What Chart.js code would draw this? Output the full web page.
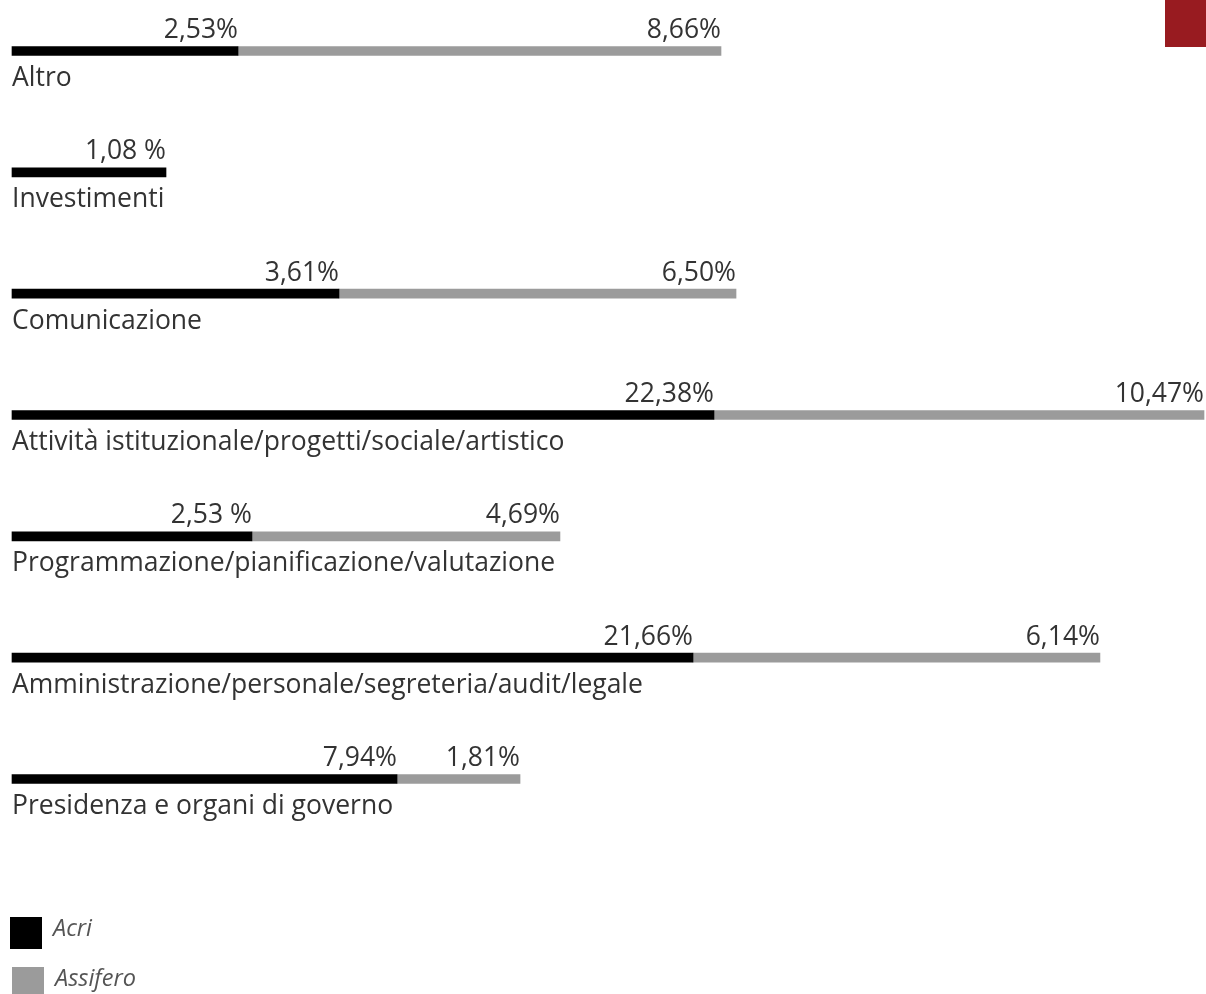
<!DOCTYPE html>
<html>
<head>
<meta charset="utf-8">
<script src="https://cdn.jsdelivr.net/npm/chart.js@4"></script>
<style>
  body { margin: 0; background: #fff; font-family: "Open Sans", sans-serif; }
  #wrap { position: relative; width: 1206px; height: 994px; overflow: hidden; }
  #corner { position: absolute; left: 1165px; top: 0; width: 41px; height: 47px; background: #981b20; }
  .leg { position: absolute; left: 10px; display: flex; align-items: center; font-style: italic; font-size: 23.5px; color: #555; }
  .leg .box { display: inline-block; width: 32px; height: 32px; margin-right: 11px; }
  .leg .txt { position: relative; top: -6px; }
</style>
</head>
<body>
<div id="wrap">
  <canvas id="chart-canvas"></canvas>
  <div id="corner"></div>
  <div id="legend"></div>
</div>
<script>
// categories, top to bottom
const categories = [
  "Altro",
  "Investimenti",
  "Comunicazione",
  "Attività istituzionale/progetti/sociale/artistico",
  "Programmazione/pianificazione/valutazione",
  "Amministrazione/personale/segreteria/audit/legale",
  "Presidenza e organi di governo"
];

// bar lengths (share of full width, 0-100);
// the drawn lengths do not follow the printed percentages
const acri = [18.96, 12.92, 27.43, 58.89, 20.13, 57.13, 32.3];
const assifero = [40.52, null, 33.31, 41.11, 25.84, 34.14, 10.32];

// printed value labels
const acriText = ["2,53%", "1,08 %", "3,61%", "22,38%", "2,53 %", "21,66%", "7,94%"];
const assiferoText = ["8,66%", null, "6,50%", "10,47%", "4,69%", "6,14%", "1,81%"];

const seriesNames = ["Acri", "Assifero"];
const seriesColors = ["#000000", "#9b9b9b"];

const labelPlugin = {
  id: "barLabels",
  afterDatasetsDraw(chart) {
    const c = chart.ctx;
    const texts = [acriText, assiferoText];
    c.save();
    c.font = '26.5px "Open Sans"';
    c.fillStyle = "#333";
    c.textBaseline = "alphabetic";
    chart.data.datasets.forEach((ds, d) => {
      const meta = chart.getDatasetMeta(d);
      meta.data.forEach((bar, i) => {
        if (!texts[d][i]) return;
        c.textAlign = "right";
        c.fillText(texts[d][i], bar.x, bar.y - 13);
      });
    });
    const meta0 = chart.getDatasetMeta(0);
    c.textAlign = "left";
    categories.forEach((cat, i) => {
      c.fillText(cat, chart.chartArea.left, meta0.data[i].y + 35);
    });
    c.restore();
  }
};

let ctx = document.getElementById("chart-canvas");
ctx.width = 1206;
ctx.height = 994;

let cost_chart = new Chart(ctx, {
  type: "bar",
  data: {
    labels: categories,
    datasets: [
      { label: seriesNames[0], data: acri, backgroundColor: seriesColors[0], barThickness: 9, clip: false },
      { label: seriesNames[1], data: assifero, backgroundColor: seriesColors[1], barThickness: 9, clip: false }
    ]
  },
  options: {
    indexAxis: "y",
    responsive: false,
    animation: false,
    layout: { padding: { left: 12, right: 2, top: 51, bottom: 215 } },
    plugins: { legend: { display: false }, tooltip: { enabled: false } },
    scales: {
      x: { stacked: true, min: 0, max: 100, display: false },
      y: { stacked: true, display: false, offset: false }
    }
  },
  plugins: [labelPlugin]
});

// legend below the chart
const legend = document.getElementById("legend");
const legendTops = [917, 967];
seriesNames.forEach((name, i) => {
  const row = document.createElement("div");
  row.className = "leg";
  row.style.top = legendTops[i] + "px";
  row.style.left = (10 + 2 * i) + "px";
  row.innerHTML = '<span class="box" style="background:' + seriesColors[i] + '"></span><span class="txt">' + name + '</span>';
  legend.appendChild(row);
});
</script>
</body>
</html>
